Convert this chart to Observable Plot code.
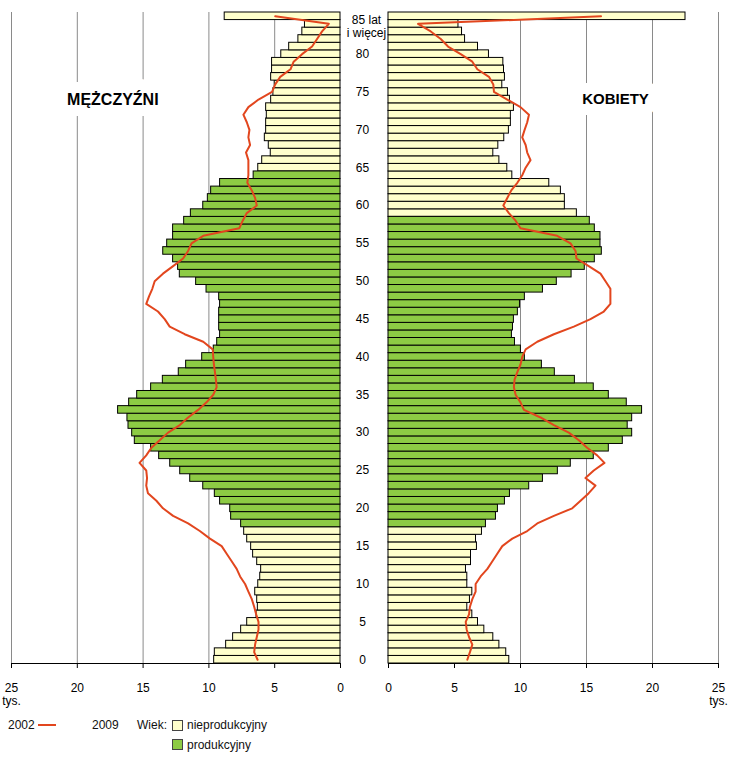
<!DOCTYPE html>
<html><head><meta charset="utf-8">
<script src="https://cdn.jsdelivr.net/npm/d3@7"></script>
<script src="https://cdn.jsdelivr.net/npm/@observablehq/plot@0.6"></script>
<style>
body{margin:0;background:#fff;font-family:Arial,"Liberation Sans",sans-serif;}
#wrap{position:relative;width:732px;height:758px;overflow:hidden;}
#charts{display:flex;position:absolute;left:0;top:0;}
.lg{position:absolute;font-size:12px;line-height:14px;color:#111;white-space:nowrap;}
.sw{position:absolute;width:9px;height:9px;border:1px solid #444;}
.ln{position:absolute;height:2px;background:#E2461E;}
</style></head><body>
<div id="wrap">
  <div id="charts"></div>
  <div class="lg" style="left:8px;top:718px">2002</div>
  <div class="ln" style="left:38px;top:724px;width:18px"></div>
  <div class="lg" style="left:92px;top:718px">2009</div>
  <div class="lg" style="left:137px;top:718px">Wiek:</div>
  <div class="sw" id="swN" style="left:172px;top:720px"></div>
  <div class="lg" style="left:187px;top:718px">nieprodukcyjny</div>
  <div class="sw" id="swP" style="left:172px;top:739px"></div>
  <div class="lg" style="left:187px;top:738px">produkcyjny</div>
</div>
<script>
// ages 0 .. 85 (85 = "85 lat i więcej")
const ages = d3.range(0, 86);
const men2009 = [9.6,9.55,8.69,8.16,7.55,7.09,6.38,6.28,6.33,6.48,
  6.25,6.1,6.03,6.33,6.64,6.79,7.09,7.32,7.55,8.31,
  8.38,9.15,9.55,10.43,11.42,12.18,12.94,13.78,14.39,15.63,
  15.83,16.11,16.19,16.9,16.06,15.45,14.39,13.5,12.29,11.73,
  10.51,9.63,9.37,9.15,9.22,9.22,9.22,9.15,9.22,10.18,
  10.97,12.21,12.34,12.72,13.47,13.17,12.72,12.72,11.88,11.37,
  10.43,10.08,9.83,9.15,6.6,6.25,5.95,5.3,5.45,5.75,
  5.65,5.65,5.6,5.65,5.27,5.1,5.0,5.27,5.2,5.2,
  4.5,3.9,3.2,2.9,2.7,8.8];
const women2009 = [9.15,8.92,8.4,7.94,7.26,6.78,6.35,5.97,6.17,6.35,
  5.97,5.97,5.87,6.25,6.25,6.7,6.63,7.08,7.38,8.14,
  8.29,8.82,9.2,10.66,11.7,12.83,13.81,15.55,16.69,17.75,
  18.46,18.12,18.46,19.21,18.05,16.69,15.55,14.12,12.6,11.62,
  10.33,10.03,9.58,9.35,9.43,9.5,9.8,9.96,10.33,11.7,
  12.75,13.87,14.87,15.63,16.16,16.06,16.06,15.63,15.25,14.27,
  13.36,13.36,13.06,12.18,9.38,9.0,8.4,7.94,8.32,8.77,
  9.12,9.27,9.27,9.5,9.2,9.05,8.62,8.82,8.75,8.7,
  7.61,6.78,5.8,5.57,5.3,22.5];
const men2002 = [6.3,6.56,6.49,6.36,6.23,6.23,6.41,6.56,6.74,7.0,
  7.25,7.63,7.89,8.27,8.65,9.03,9.92,10.69,11.58,12.72,
  13.49,13.99,14.63,14.76,14.7,14.76,15.27,14.76,14.37,13.74,
  13.1,12.21,11.58,10.82,10.18,9.67,9.41,9.47,9.54,9.62,
  9.67,9.71,10.43,11.84,12.98,13.36,13.87,14.76,14.55,14.3,
  14.12,13.49,12.72,11.96,11.58,11.32,10.43,7.69,7.43,7.12,
  6.36,6.49,6.74,7.08,7.0,7.0,7.0,7.18,6.87,7.0,
  6.92,7.12,7.38,7.0,6.23,5.2,4.96,4.58,3.8,3.56,
  2.92,2.16,1.78,1.4,0.89,4.96];
const women2002 = [5.97,6.17,6.35,6.1,5.92,5.85,6.1,6.17,6.35,6.6,
  6.6,6.98,7.49,7.87,8.24,8.62,9.38,10.51,11.27,12.53,
  13.92,14.55,15.17,15.68,14.92,15.55,16.36,15.81,15.05,14.42,
  13.66,12.53,11.52,10.26,10.0,9.63,9.5,9.55,9.76,10.0,
  10.13,10.39,11.27,12.53,14.04,15.3,16.31,16.81,16.81,16.81,
  16.44,16.06,15.17,14.24,14.17,13.79,12.78,10.0,9.63,9.12,
  8.7,9.0,9.3,9.76,10.13,10.39,10.76,10.51,10.39,10.13,
  10.31,10.51,10.64,10.0,9.0,7.99,7.94,7.61,6.73,6.35,
  5.47,4.51,3.96,3.2,2.24,16.1];
const menProductive = [18, 64];
const womenProductive = [18, 58];
const xTicks = [0, 5, 10, 15, 20, 25];
const gridTicks = [5, 10, 15, 20, 25];
const ageTicks = [0,5,10,15,20,25,30,35,40,45,50,55,60,65,70,75,80];
const topLabel = "85 lat\ni więcej";
const unitLabel = "tys.";

const YELLOW = "#FFFFCC", GREEN = "#8DCB44", RED = "#E2461E", GRID = "#8a8a8a";
document.getElementById("swN").style.background = YELLOW;
document.getElementById("swP").style.background = GREEN;

const rows = (vals, prod) => ages.map((a, i) => ({age: a, v: vals[i], prod: a >= prod[0] && a <= prod[1]}));
const menBars = rows(men2009, menProductive);
const womenBars = rows(women2009, womenProductive);
const menLine = ages.map((a, i) => ({age: a, v: men2002[i]}));
const womenLine = ages.map((a, i) => ({age: a, v: women2002[i]}));

const yScale = {domain: d3.range(85, -1, -1), padding: 0, axis: null, label: null};
const style = {fontFamily: "Arial, 'Liberation Sans', sans-serif", fontSize: "12px", color: "#000", background: "white"};
const fmtX = d => d === 25 ? "25\n" + unitLabel : String(d);

function panel({width, marginLeft, marginRight, reverse, bars, line, title, titleX, titleSize, extra}) {
  return Plot.plot({
    width, height: 708, marginTop: 12, marginBottom: 45, marginLeft, marginRight,
    style,
    x: {domain: [0, 25], reverse, axis: null, label: null},
    y: yScale,
    marks: [
      Plot.ruleX(gridTicks, {stroke: GRID, strokeWidth: 1}),
      Plot.text([title], {x: titleX, y: 74, text: d => d, fontWeight: "bold", fontSize: titleSize,
        stroke: "white", strokeWidth: 22, fill: "black"}),
      Plot.barX(bars.filter(d => !d.prod), {x: "v", y: "age", fill: YELLOW, stroke: "black", strokeWidth: 1}),
      Plot.barX(bars.filter(d => d.prod), {x: "v", y: "age", fill: GREEN, stroke: "black", strokeWidth: 1}),
      Plot.line(line, {x: "v", y: "age", stroke: RED, strokeWidth: 2}),
      Plot.axisX(xTicks, {anchor: "bottom", label: null, tickSize: 5, tickPadding: 15, tickFormat: fmtX,
        fontSize: 12, lineHeight: 1.05}),
      Plot.frame({anchor: "bottom", stroke: "black"}),
      ...(extra || [])
    ]
  });
}

const left = panel({width: 344, marginLeft: 11, marginRight: 4, reverse: true,
  bars: menBars, line: menLine, title: "MĘŻCZYŹNI", titleX: 17.3, titleSize: 16});
const right = panel({width: 388, marginLeft: 44, marginRight: 14, reverse: false,
  bars: womenBars, line: womenLine, title: "KOBIETY", titleX: 17.2, titleSize: 15,
  extra: [
    Plot.axisY(ageTicks, {anchor: "left", label: null, tickSize: 0, tickPadding: 0, textAnchor: "middle", dx: -26, fontSize: 12}),
    Plot.axisY([85], {anchor: "left", label: null, tickSize: 0, tickPadding: 0, textAnchor: "middle", dx: -22,
      tickFormat: () => topLabel, lineAnchor: "top", dy: -2, lineHeight: 1.12, fontSize: 12})
  ]});
document.getElementById("charts").append(left, right);
</script>
</body></html>
